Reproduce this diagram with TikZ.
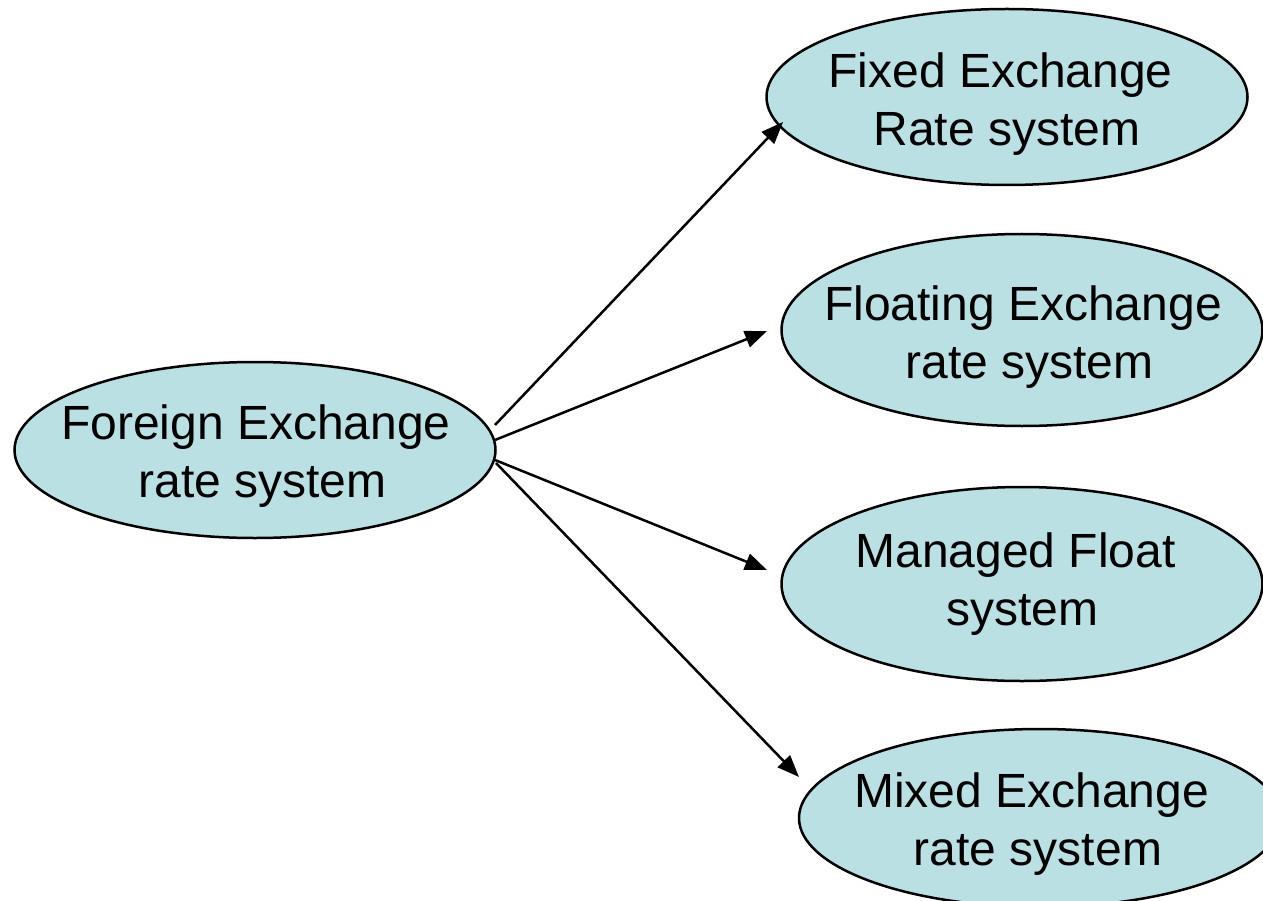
\documentclass[tikz,border=0pt]{standalone}
\usepackage{fontspec}
\setmainfont{Liberation Sans}
\usetikzlibrary{shapes.geometric,arrows.meta}
\definecolor{blobfill}{RGB}{187,224,227}
\newcommand{\wordgap}{\hspace*{13pt}}
\tikzset{
  blob/.style={ellipse, draw=black, line width=2.5pt, fill=blobfill, inner sep=0pt},
  lbl/.style={align=center, inner sep=0pt, font=\fontsize{48}{58}\selectfont},
  arr/.style={line width=2.5pt, -{Triangle[length=22pt,width=17pt]}}
}
\begin{document}
\begin{tikzpicture}[x=1pt,y=-1pt]
  \clip (0,0) rectangle (1263,901);
  % ellipses
  \node[blob, minimum width=481pt, minimum height=176pt] (foreign) at (255,450) {};
  \node[blob, minimum width=481pt, minimum height=176pt] (fixed) at (1007,97) {};
  \node[blob, minimum width=481pt, minimum height=192pt] (floating) at (1022,330) {};
  \node[blob, minimum width=481pt, minimum height=194pt] (managed) at (1022,584) {};
  \node[blob, minimum width=482pt, minimum height=178pt] (mixed) at (1040,818) {};
  % labels
  \node[lbl] (tforeign) at (256,456) {Foreign Exchange\\\wordgap rate system};
  \node[lbl] (tfixed) at (1007,104) {Fixed Exchange\wordgap\\Rate system};
  \node[lbl] (tfloating) at (1023,337) {Floating Exchange\\\wordgap rate system};
  \node[lbl] (tmanaged) at (1022,584) {Managed Float\wordgap\\system};
  \node[lbl] (tmixed) at (1038,824) {Mixed Exchange\wordgap\\rate system};
  % arrow ends
  \coordinate (s1) at (495,425);
  \coordinate (s2) at (495,440);
  \coordinate (s3) at (495,460);
  \coordinate (s4) at (496,463);
  \coordinate (e1) at (783,122);
  \coordinate (e2) at (767,331);
  \coordinate (e3) at (767,570);
  \coordinate (e4) at (799,777);
  \draw[arr] (s1) -- (e1);
  \draw[arr] (s2) -- (e2);
  \draw[arr] (s3) -- (e3);
  \draw[arr] (s4) -- (e4);
\end{tikzpicture}
\end{document}
